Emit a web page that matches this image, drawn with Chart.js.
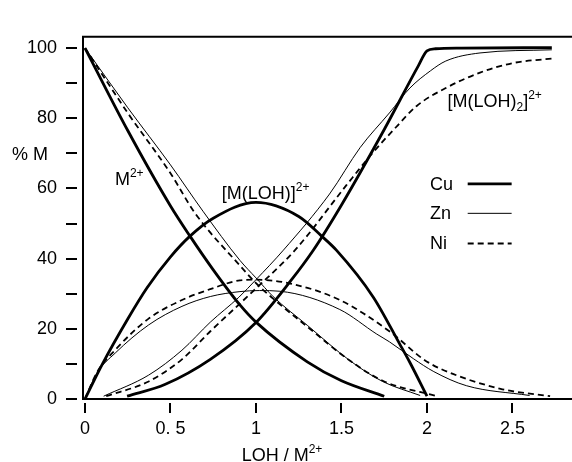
<!DOCTYPE html>
<html>
<head>
<meta charset="utf-8">
<script src="https://cdn.jsdelivr.net/npm/chart.js@4"></script>
<style>
  html, body { margin: 0; padding: 0; background: #fff; }
  #wrap { width: 572px; height: 462px; }
</style>
</head>
<body>
<div id="wrap"><canvas id="chart" width="572" height="462"></canvas></div>
<script>
// ticks
const xTicks = [0, 0.5, 1, 1.5, 2, 2.5];
const xTickLabels = ['0', '0. 5', '1', '1.5', '2', '2.5'];
const yTicks = [0, 20, 40, 60, 80, 100];
const yMinorTicks = [10, 30, 50, 70, 90];

// Cu (thick line)
const cuMX   = [0, 0.25, 0.5, 0.614, 0.75, 0.906, 1, 1.3, 1.5, 1.75];
const cuMY   = [100, 76.5, 55, 46.4, 36.8, 26.8, 21.9, 10.6, 5.2, 0.8];
const cuMLX  = [0, 0.1, 0.25, 0.363, 0.5, 0.614, 0.75, 1, 1.25, 1.384, 1.47, 1.686, 1.84, 1.9, 2];
const cuMLY  = [0, 9.8, 22.8, 31.7, 40.5, 46.4, 51.5, 56, 52, 46.4, 42.4, 29, 15.7, 10.4, 0.8];
const cuML2X = [0.246, 0.47, 0.733, 1, 1.2, 1.335, 1.5, 1.75, 1.95, 2, 2.05, 2.2, 2.73];
const cuML2Y = [0.8, 4.2, 11.3, 21.8, 33.5, 42.4, 55.3, 76.8, 95, 99.2, 99.8, 100, 100.1];

// Zn (thin line)
const znMX   = [0, 0.25, 0.5, 0.69, 0.906, 1, 1.1, 1.3, 1.55, 1.74, 1.96];
const znMY   = [100, 83, 66.7, 53.5, 39.5, 34.5, 29.2, 21, 10.9, 5, 1];
const znMLX  = [0, 0.07, 0.177, 0.372, 0.567, 0.733, 0.906, 1.02, 1.14, 1.49, 1.706, 1.78, 1.92, 2.04, 2.23, 2.6];
const znMLY  = [0, 7.4, 13.1, 21.1, 26.4, 29.2, 30.6, 30.9, 30.7, 25.5, 18.5, 16.3, 11.5, 7.8, 3.8, 1];
const znML2X = [0.109, 0.372, 0.567, 0.733, 0.9, 1, 1.16, 1.43, 1.61, 1.78, 1.9, 2.02, 2.11, 2.31, 2.73];
const znML2Y = [0.8, 6.8, 13.9, 21.9, 29, 34, 42.4, 58.4, 71.7, 81.5, 88.6, 93.5, 96.3, 98.6, 99.5];

// Ni (dashed line)
const niMX   = [0, 0.25, 0.5, 0.643, 0.906, 1, 1.1, 1.3, 1.55, 1.75, 2.06];
const niMY   = [100, 81.5, 64.3, 53, 38, 33, 28.6, 20.6, 10.9, 5, 0.8];
const niMLX  = [0, 0.07, 0.177, 0.372, 0.567, 0.733, 0.906, 1, 1.2, 1.49, 1.78, 1.98, 2.08, 2.43, 2.72];
const niMLY  = [0, 7.6, 14, 22.9, 28.2, 31.3, 33.8, 34, 32.9, 28.2, 19.3, 11.3, 8.6, 2.9, 0.8];
const niML2X = [0.124, 0.372, 0.567, 0.733, 1, 1.228, 1.53, 1.68, 1.82, 1.94, 2.11, 2.31, 2.5, 2.73];
const niML2Y = [0.8, 5, 11.3, 19.3, 31.5, 42.4, 61, 70, 77.5, 83.5, 88.6, 93, 95.7, 97];

const FONT = '"Liberation Sans", Arial, sans-serif';
const FS = 18;

const styles = {
  Cu: { borderWidth: 2.8, borderDash: [] },
  Zn: { borderWidth: 1, borderDash: [] },
  Ni: { borderWidth: 1.8, borderDash: [6, 4] }
};

function pts(xs, ys) {
  return xs.map((x, i) => ({ x: x, y: ys[i] }));
}

function curve(metal, xs, ys) {
  return {
    label: metal,
    data: pts(xs, ys),
    borderColor: '#000',
    borderWidth: styles[metal].borderWidth,
    borderDash: styles[metal].borderDash,
    pointRadius: 0,
    fill: false,
    cubicInterpolationMode: 'monotone'
  };
}

// text with super/subscripts: parts = [[text, 'n'|'sup'|'sub'], ...]
function richText(ctx, parts, x, y, size, align) {
  const small = Math.round(size * 0.66);
  let total = 0;
  parts.forEach(p => {
    ctx.font = (p[1] === 'n' ? size : small) + 'px ' + FONT;
    total += ctx.measureText(p[0]).width;
  });
  let cx = align === 'center' ? x - total / 2 : x;
  ctx.textAlign = 'left';
  ctx.textBaseline = 'alphabetic';
  parts.forEach(p => {
    ctx.font = (p[1] === 'n' ? size : small) + 'px ' + FONT;
    let dy = 0;
    if (p[1] === 'sup') dy = -size * 0.42;
    if (p[1] === 'sub') dy = size * 0.25;
    ctx.fillText(p[0], cx, y + dy);
    cx += ctx.measureText(p[0]).width;
  });
}

const decor = {
  id: 'decor',
  beforeDraw(chart) {
    const ctx = chart.ctx;
    ctx.save();
    ctx.fillStyle = '#fff';
    ctx.fillRect(0, 0, chart.width, chart.height);
    ctx.restore();
  },
  afterDraw(chart) {
    const ctx = chart.ctx;
    const xs = chart.scales.x, ys = chart.scales.y;
    const a = chart.chartArea;
    ctx.save();
    ctx.strokeStyle = '#000';
    ctx.fillStyle = '#000';
    ctx.lineWidth = 2;

    // frame: top, left, bottom
    ctx.beginPath();
    ctx.moveTo(a.right, a.top); ctx.lineTo(a.left, a.top);
    ctx.lineTo(a.left, a.bottom); ctx.lineTo(a.right, a.bottom);
    ctx.stroke();

    // y tick marks (detached from the axis)
    yTicks.concat(yMinorTicks).forEach(v => {
      const py = Math.round(ys.getPixelForValue(v));
      ctx.beginPath();
      ctx.moveTo(a.left - 17, py); ctx.lineTo(a.left - 6, py);
      ctx.stroke();
    });
    // x tick marks
    xTicks.forEach(v => {
      const px = Math.round(xs.getPixelForValue(v));
      ctx.beginPath();
      ctx.moveTo(px, a.bottom + 4); ctx.lineTo(px, a.bottom + 14);
      ctx.stroke();
    });

    // species labels
    richText(ctx, [['M', 'n'], ['2+', 'sup']],
      xs.getPixelForValue(0.175), ys.getPixelForValue(61), FS, 'left');
    richText(ctx, [['[M(LOH)]', 'n'], ['2+', 'sup']],
      xs.getPixelForValue(0.8), ys.getPixelForValue(57.0), FS, 'left');
    richText(ctx, [['[M(LOH)', 'n'], ['2', 'sub'], [']', 'n'], ['2+', 'sup']],
      xs.getPixelForValue(2.12), ys.getPixelForValue(83.3), FS, 'left');

    // axis titles
    richText(ctx, [['% M', 'n']], 12, ys.getPixelForValue(70) + 7, FS, 'left');
    richText(ctx, [['LOH / M', 'n'], ['2+', 'sup']], 282, 461, FS, 'center');

    // legend
    const legendY = { Cu: 61.3, Zn: 52.9, Ni: 44.3 };
    Object.keys(legendY).forEach(m => {
      const py = ys.getPixelForValue(legendY[m]);
      ctx.font = FS + 'px ' + FONT;
      ctx.textAlign = 'left';
      ctx.textBaseline = 'middle';
      ctx.fillText(m, xs.getPixelForValue(2.018), py + 1);
      ctx.lineWidth = styles[m].borderWidth;
      ctx.setLineDash(styles[m].borderDash);
      ctx.beginPath();
      ctx.moveTo(xs.getPixelForValue(2.238), py);
      ctx.lineTo(xs.getPixelForValue(2.495), py);
      ctx.stroke();
      ctx.setLineDash([]);
    });
    ctx.restore();
  }
};

new Chart(document.getElementById('chart'), {
  type: 'line',
  data: {
    datasets: [
      curve('Cu', cuMX, cuMY), curve('Cu', cuMLX, cuMLY), curve('Cu', cuML2X, cuML2Y),
      curve('Zn', znMX, znMY), curve('Zn', znMLX, znMLY), curve('Zn', znML2X, znML2Y),
      curve('Ni', niMX, niMY), curve('Ni', niMLX, niMLY), curve('Ni', niML2X, niML2Y)
    ]
  },
  options: {
    responsive: false,
    animation: false,
    layout: { padding: { top: 12, right: 0, left: 0, bottom: 0 } },
    plugins: { legend: { display: false }, tooltip: { enabled: false } },
    scales: {
      x: {
        type: 'linear',
        min: -0.0117,
        max: 2.848,
        grid: { display: false, drawTicks: false },
        border: { display: false },
        afterFit: s => { s.height = 63; },
        afterBuildTicks: s => { s.ticks = xTicks.map(v => ({ value: v })); },
        ticks: {
          padding: 19,
          color: '#000',
          maxRotation: 0,
          font: { family: FONT, size: FS },
          callback: (v) => { const i = xTicks.indexOf(v); return i >= 0 ? xTickLabels[i] : ''; }
        }
      },
      y: {
        min: 0,
        max: 103.2,
        grid: { display: false, drawTicks: false },
        border: { display: false },
        afterFit: s => { s.width = 83; },
        afterBuildTicks: s => { s.ticks = yTicks.map(v => ({ value: v })); },
        ticks: {
          padding: 26,
          color: '#000',
          font: { family: FONT, size: FS },
          callback: v => String(v)
        }
      }
    }
  },
  plugins: [decor]
});
</script>
</body>
</html>
